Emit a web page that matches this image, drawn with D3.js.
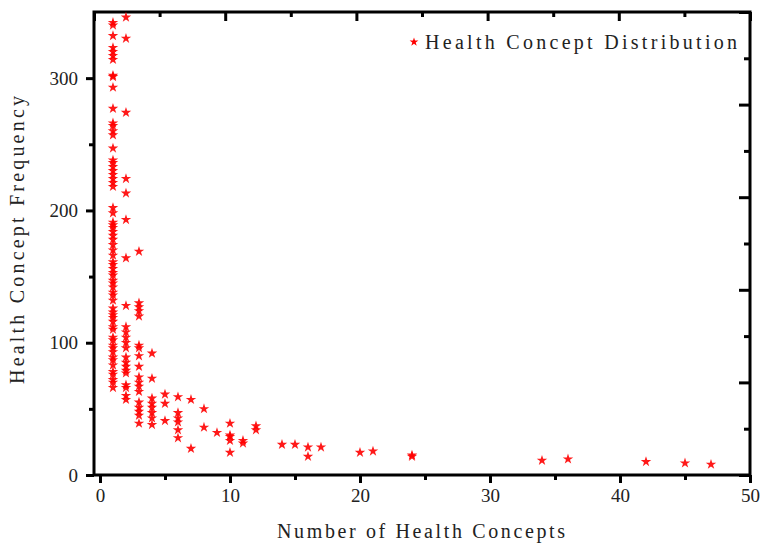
<!DOCTYPE html>
<html>
<head>
<meta charset="utf-8">
<script src="https://cdn.jsdelivr.net/npm/d3@7"></script>
<style>
  body { margin: 0; background: #fff; }
  svg text { font-family: "Liberation Serif", "DejaVu Serif", serif; fill: #222; }
</style>
</head>
<body>
<div id="chart"></div>
<script>
// number of health concepts (x) and their frequency values (y)
var x1 = [342, 340, 332, 323, 320, 317, 314, 302, 301, 293, 277, 266, 264, 260, 257, 247, 238, 236, 233, 230,
          227, 224, 221, 218, 202, 198, 191, 189, 187, 184, 181, 178, 174, 170, 166, 161, 159, 156, 153, 151,
          147, 145, 142, 138, 136, 132, 126, 123, 121, 119, 116, 112, 110, 104, 102, 98, 96, 93, 89, 87,
          83, 78, 76, 72, 70, 66];
var x2 = [346, 330, 274, 224, 213, 193, 164, 128, 112, 108, 104, 100, 96, 89, 85, 82, 79, 77, 68, 66, 60, 57];
var x3 = [169, 130, 127, 124, 120, 98, 96, 90, 82, 74, 70, 67, 63, 55, 51, 48, 45, 39];
var x4 = [92, 73, 58, 54, 51, 47, 43, 38];
var x5 = [61, 54, 41];
var x6 = [59, 47, 43, 40, 34, 28];
var others = [
  [7, 57], [7, 20], [8, 50], [8, 36], [9, 32],
  [10, 39], [10, 30], [10, 29], [10, 26], [10, 17],
  [11, 26], [11, 24], [12, 37], [12, 34], [14, 23], [15, 23],
  [16, 21], [16, 14], [17, 21], [20, 17], [21, 18],
  [24, 15], [24, 14], [34, 11], [36, 12], [42, 10], [45, 9], [47, 8]
];

var xMajor = [0, 10, 20, 30, 40, 50];
var xMinor = [5, 15, 25, 35, 45];
var yMajor = [0, 100, 200, 300];
var yMinor = [50, 150, 250];

var points = [];
[[1, x1], [2, x2], [3, x3], [4, x4], [5, x5], [6, x6]].forEach(function(c) {
    c[1].forEach(function(v) { points.push([c[0], v]); });
});
others.forEach(function(p) { points.push(p); });

var W = 765, H = 543;
var plotL = 94, plotR = 750, plotT = 12, plotB = 475;

var svg = d3.select("#chart").append("svg")
    .attr("width", W).attr("height", H);

var x = d3.scaleLinear().domain([-0.46, 50]).range([plotL, plotR]);
var y = d3.scaleLinear().domain([0, 350]).range([plotB, plotT]);
// top and right axes carry their own unlabeled tick spacing
var xTop = d3.scaleLinear().domain([0, 10]).range([plotL, plotR]);
var yRight = d3.scaleLinear().domain([0, 10]).range([plotB, plotT]);

function drawAxis(axis, tx, ty) {
    var g = svg.append("g").attr("transform", "translate(" + tx + "," + ty + ")").call(axis);
    g.select(".domain").remove();
    g.selectAll(".tick line").attr("stroke", "#000").attr("stroke-width", 3);
    g.selectAll(".tick text").style("font-size", "19px").style("font-family", "Liberation Serif").attr("fill", "#222");
    return g;
}

// bottom
drawAxis(d3.axisBottom(x).tickValues(xMajor).tickSize(8).tickPadding(6).tickFormat(d3.format("d")), 0, plotB);
drawAxis(d3.axisBottom(x).tickValues(xMinor).tickSize(5).tickFormat(""), 0, plotB);
// left
drawAxis(d3.axisLeft(y).tickValues(yMajor).tickSize(8).tickPadding(8).tickFormat(d3.format("d")), plotL, 0);
drawAxis(d3.axisLeft(y).tickValues(yMinor).tickSize(5).tickFormat(""), plotL, 0);
// top (ticks inward)
drawAxis(d3.axisBottom(xTop).tickValues([0, 2, 4, 6, 8, 10]).tickSize(9).tickFormat(""), 0, plotT);
drawAxis(d3.axisBottom(xTop).tickValues([1, 3, 5, 7, 9]).tickSize(5).tickFormat(""), 0, plotT);
// right (ticks inward)
drawAxis(d3.axisLeft(yRight).tickValues([0, 2, 4, 6, 8, 10]).tickSize(11).tickFormat(""), plotR, 0);
drawAxis(d3.axisLeft(yRight).tickValues([1, 3, 5, 7, 9]).tickSize(6).tickFormat(""), plotR, 0);

// frame
svg.append("rect")
    .attr("x", plotL).attr("y", plotT)
    .attr("width", plotR - plotL).attr("height", plotB - plotT)
    .attr("fill", "none").attr("stroke", "#000").attr("stroke-width", 3);

var star = d3.symbol().type(d3.symbolStar).size(34);

svg.append("g")
    .selectAll("path")
    .data(points)
    .enter()
    .append("path")
    .attr("d", star)
    .attr("transform", function(d) { return "translate(" + x(d[0]) + "," + y(d[1]) + ")"; })
    .attr("fill", "#ff0000")
    .attr("opacity", 0.9);

// legend
svg.append("path")
    .attr("d", d3.symbol().type(d3.symbolStar).size(24))
    .attr("transform", "translate(414,42)")
    .attr("fill", "#ff0000");
svg.append("text")
    .attr("x", 425).attr("y", 49)
    .attr("textLength", 312)
    .style("font-size", "20px")
    .text("Health Concept Distribution");

// axis titles
svg.append("text")
    .attr("x", 421).attr("y", 538)
    .attr("text-anchor", "middle")
    .attr("textLength", 288)
    .style("font-size", "20px")
    .text("Number of Health Concepts");

svg.append("text")
    .attr("transform", "translate(24,240) rotate(-90)")
    .attr("text-anchor", "middle")
    .attr("textLength", 288)
    .style("font-size", "20px")
    .text("Health Concept Frequency");
</script>
</body>
</html>
